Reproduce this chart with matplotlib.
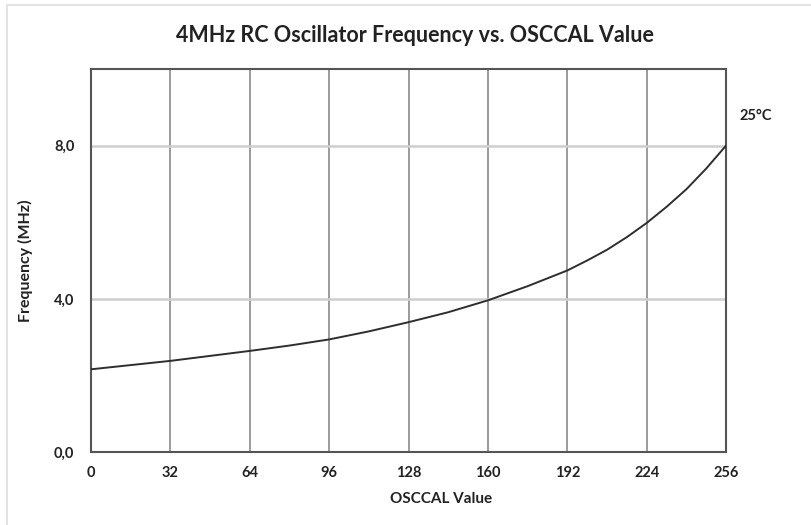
import matplotlib
matplotlib.use("Agg")
import matplotlib.pyplot as plt
from matplotlib.lines import Line2D

# OSCCAL value vs frequency (MHz) at 25°C
osccal = [0, 16, 32, 48, 64, 80, 96, 112, 128, 144, 160, 176, 192,
          200, 208, 216, 224, 232, 240, 248, 256]
freq_mhz = [2.16, 2.27, 2.38, 2.51, 2.64, 2.78, 2.94, 3.15, 3.39, 3.65, 3.96, 4.33, 4.74,
            5.00, 5.28, 5.61, 5.98, 6.40, 6.86, 7.40, 8.0]

x_ticks = [0, 32, 64, 96, 128, 160, 192, 224, 256]
y_ticks = [0, 4, 8]
y_tick_labels = ["0,0", "4,0", "8,0"]

plt.rcParams['font.family'] = ['Lato', 'DejaVu Sans']

fig = plt.figure(figsize=(8.12, 5.25), dpi=100)
ax = fig.add_axes([0.1121, 0.139, 0.782, 0.7295])

# gridlines
for xv in x_ticks[1:-1]:
    ax.axvline(xv, color='#8a8a8a', lw=1.2, zorder=1)
for yv in y_ticks[1:]:
    ax.axhline(yv, color='#cfcfcf', lw=1.8, zorder=1)

ax.plot(osccal, freq_mhz, color='#2e2e2e', lw=1.4, zorder=3)

ax.set_xlim(0, 256)
ax.set_ylim(0, 10)
ax.set_xticks(x_ticks)
ax.set_xticklabels([str(v) for v in x_ticks], fontsize=10.5, fontweight='bold', color='#222222')
ax.set_yticks(y_ticks)
ax.set_yticklabels(y_tick_labels, fontsize=10.5, fontweight='bold', color='#222222')
ax.tick_params(length=0)
ax.tick_params(axis='y', pad=12)
ax.tick_params(axis='x', pad=10)

for sp in ax.spines.values():
    sp.set_color('#555555')
    sp.set_linewidth(1.5)

ax.set_xlabel("OSCCAL Value", fontsize=11, fontweight='bold', color='#222222')
ax.xaxis.set_label_coords(0.551, -0.105)
ax.set_ylabel("Frequency (MHz)", fontsize=11.5, fontweight='bold', color='#222222')
ax.yaxis.set_label_coords(-0.091, 0.5)

fig.text(0.511, 0.933, "4MHz RC Oscillator Frequency vs. OSCCAL Value",
         ha='center', va='center', fontsize=15.5, fontweight='bold', color='#222222')
fig.text(0.911, 0.78, "25°C", ha='left', va='center', fontsize=10.5, fontweight='bold', color='#222222')

# faint border at the top and left edges of the image
fig.add_artist(Line2D([0.009, 1.0], [0.99, 0.99], color='#e3e3e3', lw=1.5, transform=fig.transFigure))
fig.add_artist(Line2D([0.009, 0.009], [0.0, 0.99], color='#e3e3e3', lw=1.5, transform=fig.transFigure))

fig.savefig("out.png", dpi=100)
